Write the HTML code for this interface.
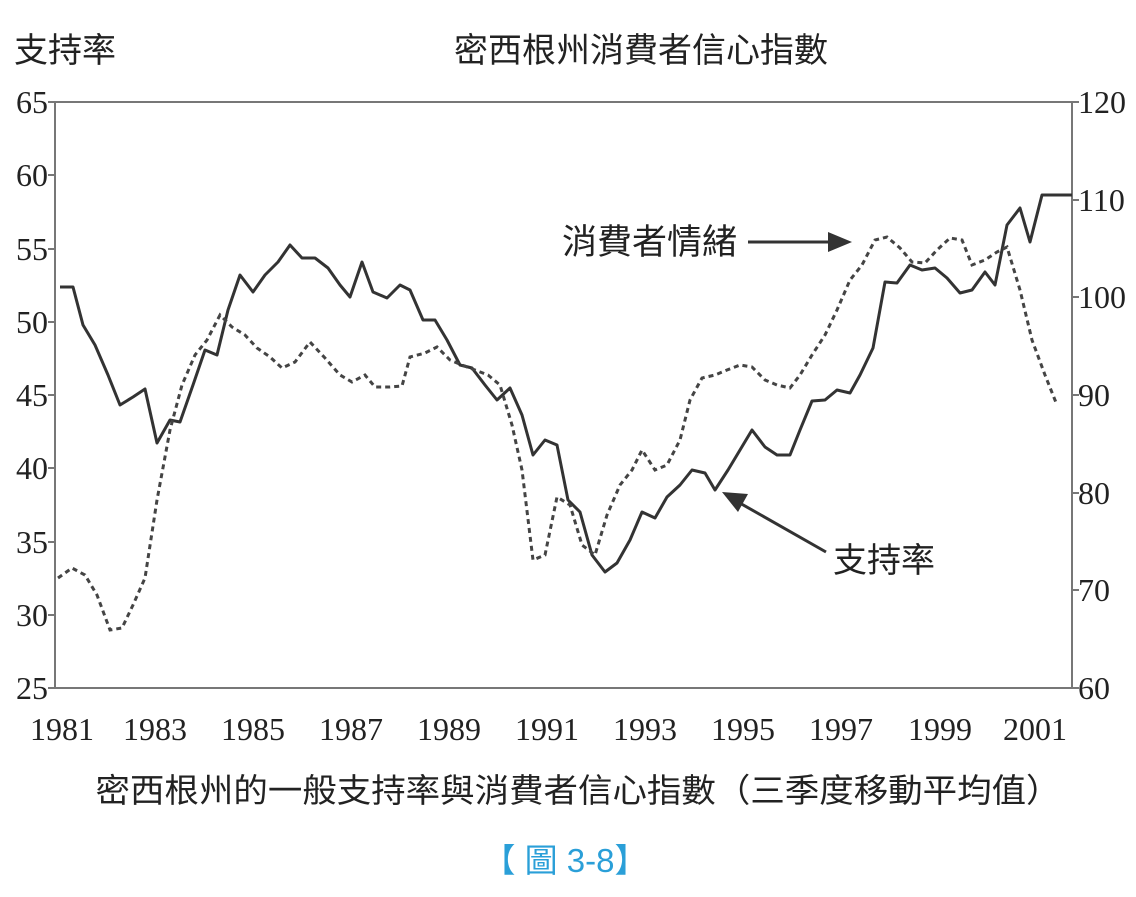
<!DOCTYPE html>
<html><head><meta charset="utf-8"><style>
body{margin:0;background:#fff;width:1136px;height:892px;overflow:hidden}
svg text{fill:#222}
.cj{font-family:"Liberation Sans","Noto Sans CJK TC",sans-serif}
.sf{font-family:"Liberation Serif",serif}
</style></head><body>
<svg width="1136" height="892" xmlns="http://www.w3.org/2000/svg">
<text x="14" y="62" class="cj" font-size="34">支持率</text>
<text x="641" y="62" class="cj" font-size="34" text-anchor="middle">密西根州消費者信心指數</text>
<g stroke="#777" stroke-width="2" fill="none">
<path d="M55,102 H1072 V688 H55 Z"/>
<path d="M48,102H55M48,175H55M48,249H55M48,322H55M48,395H55M48,468H55M48,542H55M48,615H55M48,688H55"/>
<path d="M1072,102H1079M1072,200H1079M1072,297H1079M1072,395H1079M1072,493H1079M1072,590H1079M1072,688H1079"/>
</g>
<g class="sf" font-size="32" text-anchor="end">
<text x="48" y="113">65</text><text x="48" y="186">60</text><text x="48" y="260">55</text><text x="48" y="333">50</text><text x="48" y="406">45</text><text x="48" y="479">40</text><text x="48" y="553">35</text><text x="48" y="626">30</text><text x="48" y="699">25</text>
</g>
<g class="sf" font-size="32">
<text x="1078" y="113">120</text><text x="1078" y="211">110</text><text x="1078" y="308">100</text><text x="1078" y="406">90</text><text x="1078" y="504">80</text><text x="1078" y="601">70</text><text x="1078" y="699">60</text>
</g>
<g class="sf" font-size="32" text-anchor="middle">
<text x="62" y="740">1981</text><text x="155" y="740">1983</text><text x="253" y="740">1985</text><text x="351" y="740">1987</text><text x="449" y="740">1989</text><text x="547" y="740">1991</text><text x="645" y="740">1993</text><text x="743" y="740">1995</text><text x="841" y="740">1997</text><text x="940" y="740">1999</text><text x="1035" y="740">2001</text>
</g>
<polyline fill="none" stroke="#333" stroke-width="3" stroke-linejoin="round" points="60,287 73,287 83,325 95,345 108,375 120,405 133,397 145,389 157,443 170,420 180,422 193,385 205,350 217,355 228,310 240,275 253,292 265,275 278,262 290,245 302,258 315,258 328,268 340,285 350,297 362,262 373,292 387,298 400,285 410,290 423,320 435,320 447,340 460,365 472,368 485,385 497,400 510,388 522,415 533,455 545,440 557,445 568,500 580,512 592,555 605,572 617,563 630,540 642,512 655,518 667,497 680,485 692,470 705,473 715,490 728,470 740,450 752,430 765,447 777,455 790,455 800,430 812,401 825,400 837,390 850,393 860,375 873,348 885,282 897,283 910,265 922,270 935,268 947,278 960,293 972,290 985,272 995,285 1007,225 1020,208 1030,242 1042,195 1060,195 1072,195"/>
<polyline fill="none" stroke="#444" stroke-width="3" stroke-dasharray="5,4" points="58,578 72,568 85,575 97,595 110,630 122,628 133,605 145,578 157,500 170,430 182,385 195,355 207,340 220,315 232,327 245,335 257,348 270,357 282,368 295,362 310,342 325,358 340,375 352,382 365,375 375,387 390,387 402,386 410,357 425,353 437,347 450,360 462,365 475,370 488,375 500,385 512,425 522,470 533,560 545,555 557,497 570,505 582,545 595,555 607,515 620,485 632,470 642,450 655,470 667,465 680,440 690,400 702,378 715,375 727,370 740,365 752,367 765,380 777,385 790,388 800,375 812,355 825,335 837,310 850,280 862,265 875,240 887,237 900,248 912,262 925,263 937,250 950,238 962,240 972,265 985,260 997,252 1007,247 1020,290 1032,340 1045,375 1057,405"/>
<text x="562" y="254" class="cj" font-size="35">消費者情緒</text>
<line x1="748" y1="242" x2="832" y2="242" stroke="#333" stroke-width="3"/>
<polygon points="852,242 828,232 828,252" fill="#333"/>
<text x="833" y="572" class="cj" font-size="34">支持率</text>
<line x1="826" y1="552" x2="738" y2="502" stroke="#333" stroke-width="3"/>
<polygon points="722,492 748,494 738,512" fill="#333"/>
<text x="578" y="802" class="cj" font-size="33" text-anchor="middle" textLength="965" lengthAdjust="spacingAndGlyphs">密西根州的一般支持率與消費者信心指數（三季度移動平均值）</text>
<text x="565" y="872" class="cj" font-size="33" text-anchor="middle" style="fill:#2a9fd8">【 圖 3-8】</text>
</svg>
</body></html>
